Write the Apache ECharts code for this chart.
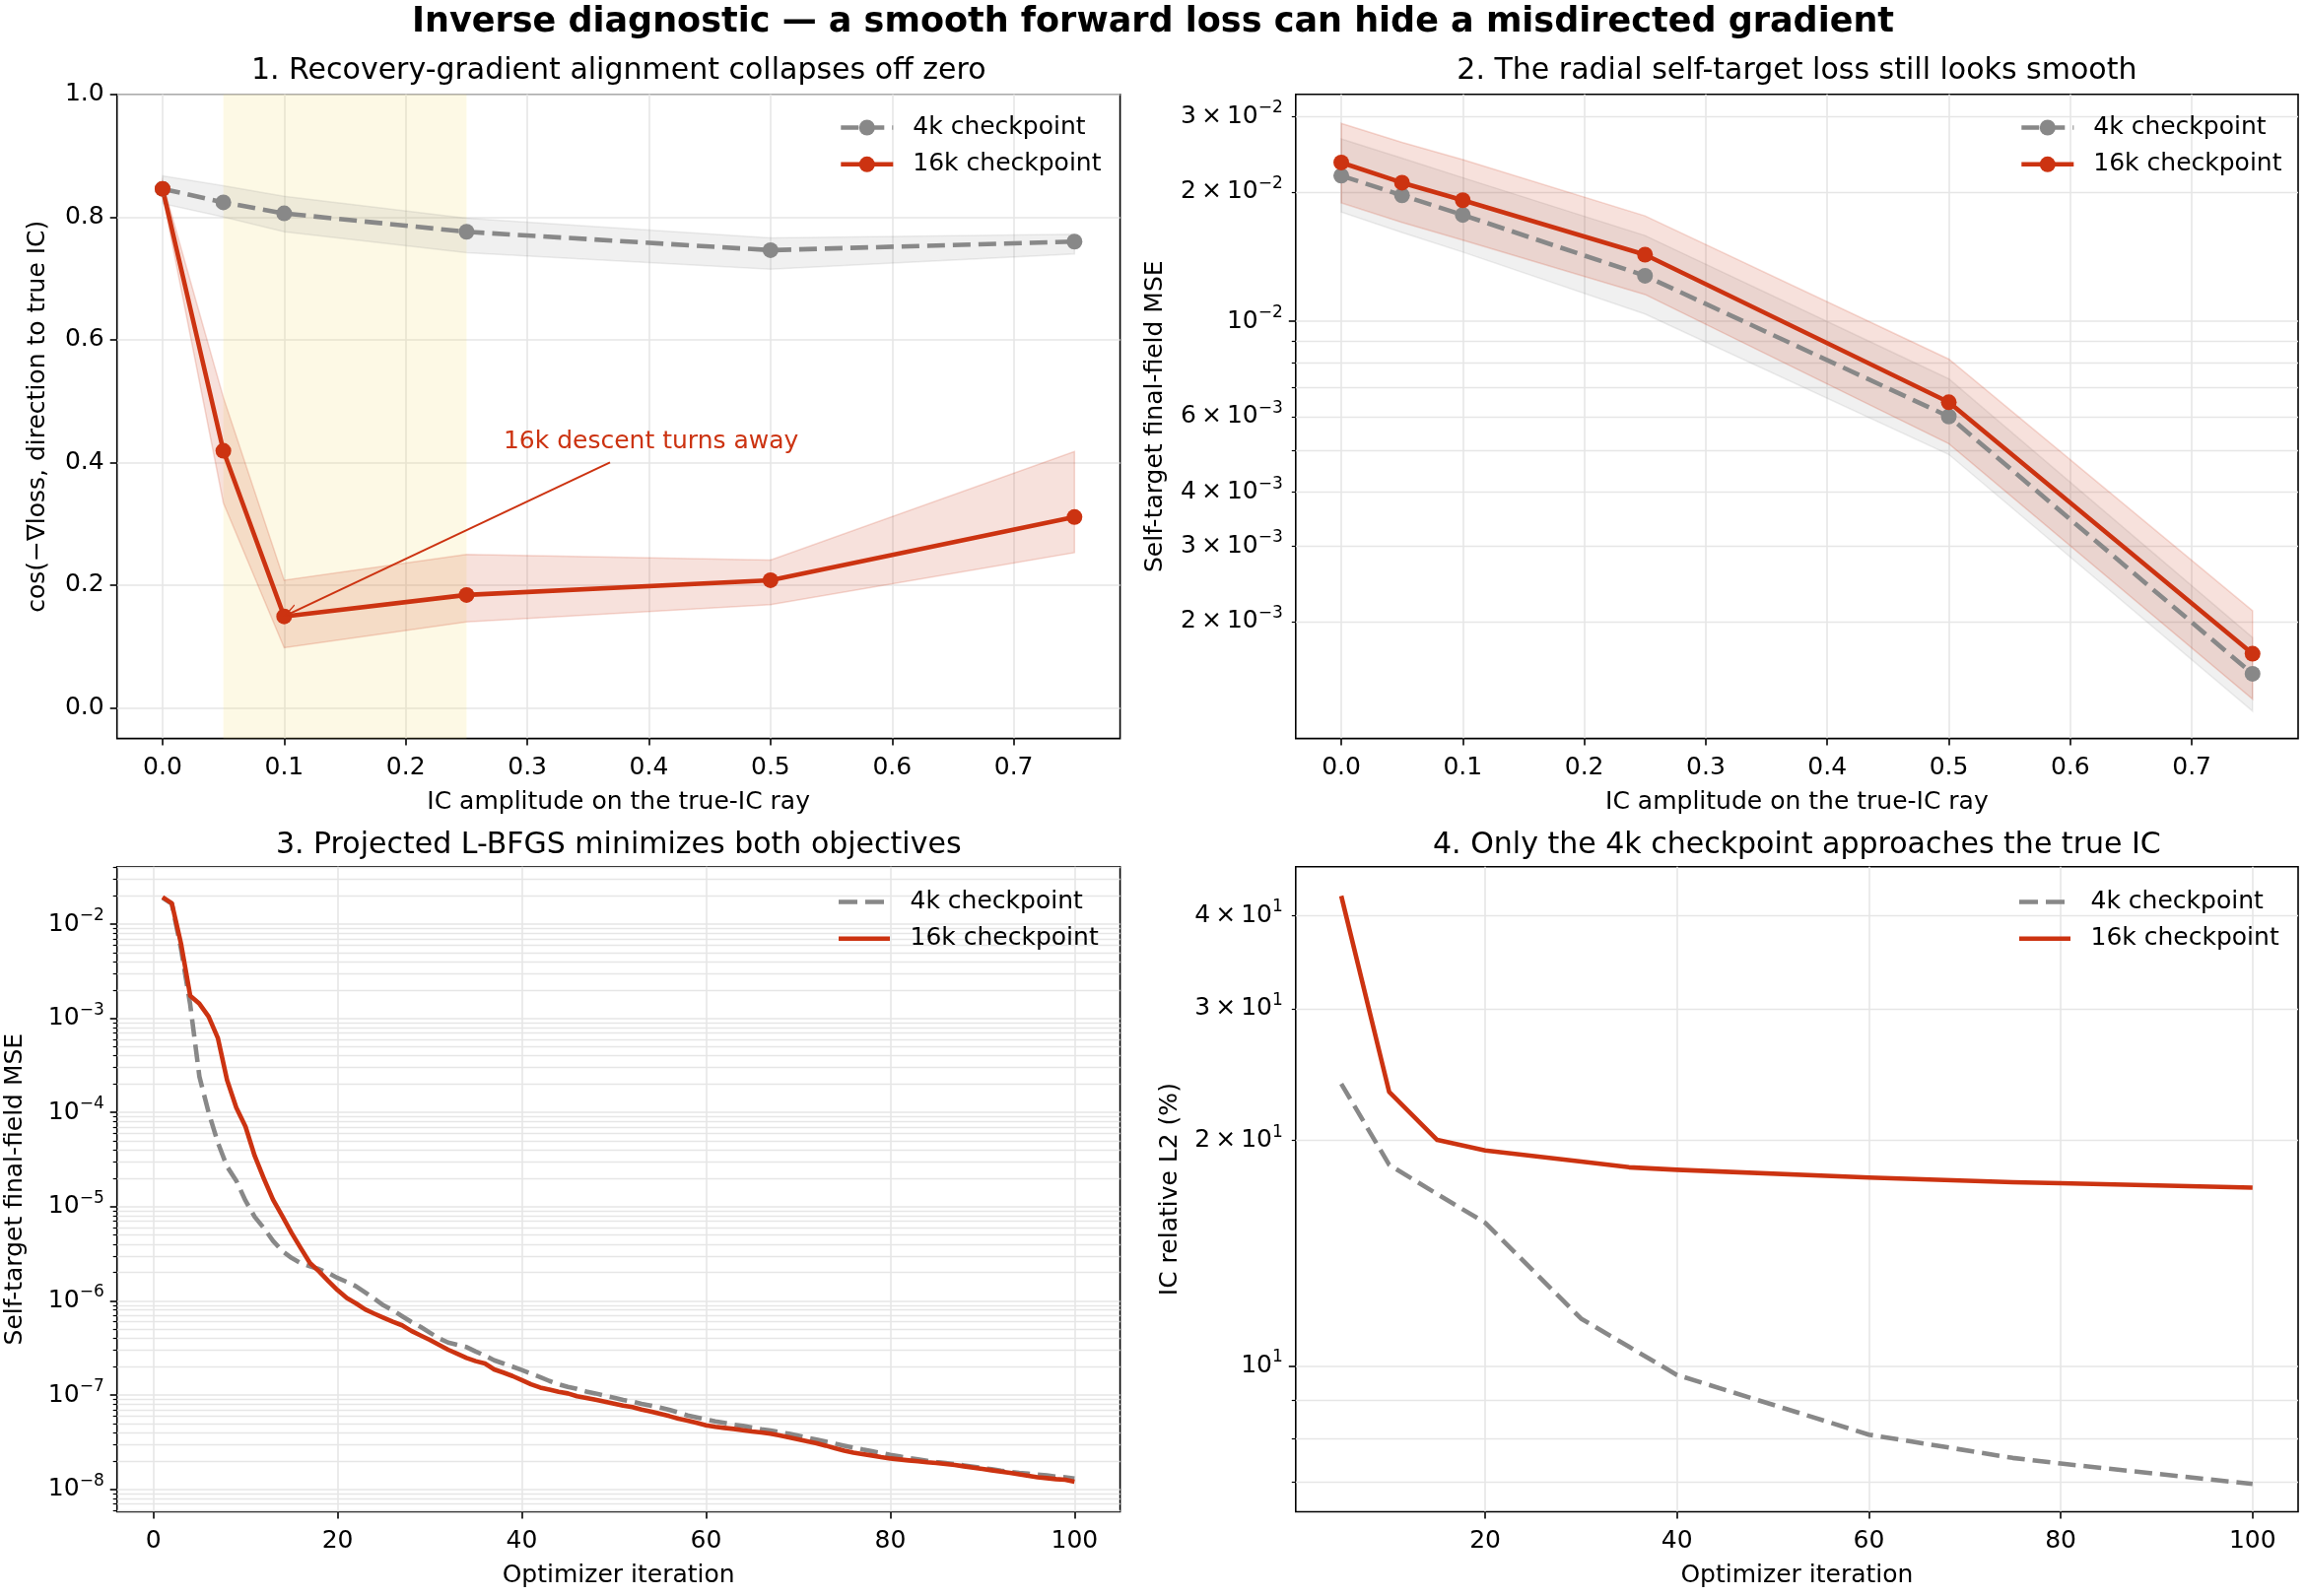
<!DOCTYPE html>
<html><head><meta charset="utf-8">
<script src="https://cdn.jsdelivr.net/npm/echarts@6/dist/echarts.min.js"></script>
<style>html,body{margin:0;padding:0;background:#fff}#c{width:2340px;height:1620px}</style>
</head><body><div id="c"></div><script>
// ---------- data ----------
const ampX = [0, 0.05, 0.1, 0.25, 0.5, 0.75];
const align4k   = [0.846, 0.824, 0.806, 0.776, 0.746, 0.760];
const align4kLo = [0.822, 0.800, 0.776, 0.742, 0.715, 0.740];
const align4kHi = [0.867, 0.851, 0.834, 0.798, 0.766, 0.772];
const align16k   = [0.846, 0.419, 0.149, 0.184, 0.208, 0.311];
const align16kLo = [0.836, 0.334, 0.098, 0.140, 0.168, 0.253];
const align16kHi = [0.856, 0.506, 0.208, 0.250, 0.241, 0.418];

const mse4k   = [0.02183, 0.01965, 0.01769, 0.01277, 0.006006, 0.001512];
const mse4kLo = [0.01797, 0.0161, 0.0145, 0.01040, 0.00490, 0.001238];
const mse4kHi = [0.02658, 0.0240, 0.0216, 0.01584, 0.00735, 0.001837];
const mse16k   = [0.02343, 0.02103, 0.01914, 0.01430, 0.006482, 0.001684];
const mse16kLo = [0.01888, 0.0170, 0.01545, 0.01155, 0.00519, 0.00132];
const mse16kHi = [0.0289, 0.0261, 0.0238, 0.0176, 0.00817, 0.00212];

const iters = [1,2,3,4,5,6,7,8,9,10,11,12,13,14,15,16,17,18,19,20,21,22,23,24,25,26,27,28,29,30,
  31,32,33,34,35,36,37,38,39,40,41,42,43,44,45,46,47,48,49,50,51,52,53,54,55,56,57,58,59,60,
  61,62,63,64,65,66,67,68,69,70,71,72,73,74,75,76,77,78,79,80,81,82,83,84,85,86,87,88,89,90,
  91,92,93,94,95,96,97,98,99,100];
const lbfgs4k = [0.0190,0.0165,0.0055,1.4e-3,2.4e-4,1.0e-4,4.8e-5,2.67e-5,1.89e-5,1.16e-5,
  7.8e-6,5.93e-6,4.33e-6,3.38e-6,2.86e-6,2.52e-6,2.33e-6,2.17e-6,1.97e-6,1.75e-6,
  1.59e-6,1.43e-6,1.23e-6,1.05e-6,8.95e-7,7.94e-7,6.88e-7,5.99e-7,5.31e-7,4.6e-7,
  4.01e-7,3.61e-7,3.41e-7,3.23e-7,2.9e-7,2.62e-7,2.34e-7,2.16e-7,2.0e-7,1.84e-7,
  1.69e-7,1.55e-7,1.41e-7,1.30e-7,1.22e-7,1.16e-7,1.09e-7,1.04e-7,9.84e-8,9.38e-8,
  8.87e-8,8.51e-8,8.05e-8,7.73e-8,7.36e-8,6.97e-8,6.53e-8,6.07e-8,5.79e-8,5.52e-8,
  5.26e-8,5.06e-8,4.85e-8,4.7e-8,4.51e-8,4.33e-8,4.2e-8,4.03e-8,3.88e-8,3.70e-8,
  3.52e-8,3.36e-8,3.2e-8,3.05e-8,2.9e-8,2.77e-8,2.64e-8,2.53e-8,2.43e-8,2.32e-8,
  2.23e-8,2.14e-8,2.07e-8,2.0e-8,1.94e-8,1.9e-8,1.85e-8,1.79e-8,1.73e-8,1.68e-8,
  1.63e-8,1.57e-8,1.53e-8,1.49e-8,1.46e-8,1.43e-8,1.40e-8,1.36e-8,1.34e-8,1.30e-8];
const lbfgs16k = [0.01934,0.01669,0.00624,0.00174,1.43e-3,1.045e-3,6.19e-4,2.21e-4,1.13e-4,7.1e-5,
  3.47e-5,1.99e-5,1.18e-5,7.96e-6,5.27e-6,3.63e-6,2.52e-6,2.05e-6,1.62e-6,1.30e-6,
  1.07e-6,9.4e-7,8.1e-7,7.3e-7,6.6e-7,6.0e-7,5.5e-7,4.8e-7,4.3e-7,3.85e-7,
  3.41e-7,3.03e-7,2.74e-7,2.48e-7,2.29e-7,2.16e-7,1.87e-7,1.73e-7,1.59e-7,1.44e-7,
  1.30e-7,1.20e-7,1.14e-7,1.08e-7,1.04e-7,9.7e-8,9.3e-8,8.9e-8,8.5e-8,8.1e-8,
  7.73e-8,7.43e-8,7.02e-8,6.69e-8,6.32e-8,5.98e-8,5.61e-8,5.35e-8,5.06e-8,4.78e-8,
  4.59e-8,4.48e-8,4.37e-8,4.23e-8,4.10e-8,4.0e-8,3.88e-8,3.72e-8,3.55e-8,3.38e-8,
  3.22e-8,3.07e-8,2.9e-8,2.72e-8,2.57e-8,2.45e-8,2.36e-8,2.28e-8,2.19e-8,2.12e-8,
  2.07e-8,2.02e-8,1.98e-8,1.93e-8,1.90e-8,1.85e-8,1.81e-8,1.75e-8,1.69e-8,1.64e-8,
  1.59e-8,1.54e-8,1.49e-8,1.44e-8,1.39e-8,1.34e-8,1.31e-8,1.28e-8,1.26e-8,1.20e-8];

const recIter = [5, 10, 15, 20, 30, 35, 40, 60, 75, 80, 100];
const icL2_4k  = [23.82, 18.56, 16.96, 15.53, 11.56, 10.60, 9.72, 8.09, 7.53, 7.40, 6.95];
const icL2_16k = [42.46, 23.22, 20.04, 19.40, 18.75, 18.42, 18.28, 17.85, 17.59, 17.54, 17.30];

const ampTicks = [0, 0.1, 0.2, 0.3, 0.4, 0.5, 0.6, 0.7];
const alignTicks = [0, 0.2, 0.4, 0.6, 0.8, 1.0];
const iterTicks3 = [0, 20, 40, 60, 80, 100];
const iterTicks4 = [20, 40, 60, 80, 100];
const mseLabels2 = [0.002, 0.003, 0.004, 0.006, 0.01, 0.02, 0.03];
const mseLabels3 = [1e-8, 1e-7, 1e-6, 1e-5, 1e-4, 1e-3, 1e-2];
const l2Labels4 = [10, 20, 30, 40];
const highlightSpan = [0.05, 0.25];

const titles = ['Inverse diagnostic — a smooth forward loss can hide a misdirected gradient',
  '1. Recovery-gradient alignment collapses off zero',
  '2. The radial self-target loss still looks smooth',
  '3. Projected L-BFGS minimizes both objectives',
  '4. Only the 4k checkpoint approaches the true IC'];

// ---------- style ----------
const RED = '#cc3311', GREY = '#888888';
const FONT = 'DejaVu Sans';
const GRIDC = '#e6e6e6';
const DASH = [18, 8];
const LW = 4.6;

function logTicks(lo, hi, mantissas) {
  const out = [];
  for (let e = Math.floor(Math.log10(lo)); e <= Math.ceil(Math.log10(hi)); e++) {
    mantissas.forEach(m => { const v = m * Math.pow(10, e); if (v >= lo && v <= hi) out.push(+v.toPrecision(6)); });
  }
  return out;
}
function sci(v) {
  const e = Math.floor(Math.log10(v) + 1e-9);
  const m = Math.round(v / Math.pow(10, e));
  const exp = e < 0 ? '\u2212' + (-e) : String(e);
  return (m === 1 ? '{b|10}' : '{b|' + m + '\u2009\u00d7\u200910}') + '{s|' + exp + '}';
}
const rich = { b: { fontSize: 25, color: '#000', fontFamily: FONT, lineHeight: 34 },
               s: { fontSize: 17, color: '#000', fontFamily: FONT, verticalAlign: 'top', lineHeight: 17 } };

const grids = [
  { left: 118.7, top: 95.8, width: 1017.9, height: 653.8 },
  { left: 1314.8, top: 95.8, width: 1017.2, height: 653.8 },
  { left: 118.7, top: 879.8, width: 1017.9, height: 654.7 },
  { left: 1314.8, top: 879.8, width: 1017.2, height: 654.7 }
].map(g => Object.assign(g, { show: true, borderColor: '#000', borderWidth: 1.6, backgroundColor: 'transparent' }));

function xAx(gi, min, max, ticks, fmt, name) {
  return { gridIndex: gi, type: 'value', min, max,
    axisLine: { show: false, onZero: false },
    axisTick: { show: true, customValues: ticks, length: 7, lineStyle: { color: '#000', width: 1.6 } },
    axisLabel: { customValues: ticks, formatter: fmt, margin: 17, fontSize: 25, color: '#000', fontFamily: FONT },
    splitLine: { show: true, lineStyle: { color: GRIDC, width: 1.6 } },
    name, nameLocation: 'middle', nameGap: 52, nameTextStyle: { fontSize: 25, color: '#000', fontFamily: FONT } };
}
function yMajor(gi, type, min, max, ticks, labels, fmt, name, gap, useRich) {
  const lab = { customValues: labels, formatter: fmt, margin: 13, fontSize: 25, color: '#000', fontFamily: FONT };
  if (useRich) lab.rich = rich;
  return { gridIndex: gi, type, min, max, position: 'left',
    axisLine: { show: false, onZero: false },
    axisTick: { show: true, customValues: ticks, length: 7, lineStyle: { color: '#000', width: 1.6 } },
    axisLabel: lab,
    splitLine: { show: true, lineStyle: { color: GRIDC, width: 1.6 } },
    name, nameLocation: 'middle', nameGap: gap, nameTextStyle: { fontSize: 25, color: '#000', fontFamily: FONT } };
}
function yMinor(gi, min, max, ticks) {
  return { gridIndex: gi, type: 'log', min, max, position: 'left',
    axisLine: { show: false, onZero: false }, axisLabel: { show: false },
    axisTick: { show: true, customValues: ticks, length: 4, lineStyle: { color: '#000', width: 1.2 } },
    splitLine: { show: true, lineStyle: { color: GRIDC, width: 1.4 } } };
}

const y2 = [1.069e-3, 3.376e-2], y3 = [5.76e-9, 4.07e-2], y4 = [6.38, 46.45];

const xAxes = [
  xAx(0, -0.0375, 0.7875, ampTicks, v => v.toFixed(1), 'IC amplitude on the true-IC ray'),
  xAx(1, -0.0375, 0.7875, ampTicks, v => v.toFixed(1), 'IC amplitude on the true-IC ray'),
  xAx(2, -3.95, 104.95, iterTicks3, v => String(v), 'Optimizer iteration'),
  xAx(3, 0.25, 104.75, iterTicks4, v => String(v), 'Optimizer iteration')
];
const yAxes = [
  yMajor(0, 'value', -0.05, 1.0, alignTicks, alignTicks, v => v.toFixed(1), 'cos(\u2212\u2207loss, direction to true IC)', 68, false),
  yMajor(1, 'log', y2[0], y2[1], logTicks(y2[0], y2[1], [1]), mseLabels2, sci, 'Self-target final-field MSE', 130, true),
  yMinor(1, y2[0], y2[1], logTicks(y2[0], y2[1], [2,3,4,5,6,7,8,9])),
  yMajor(2, 'log', y3[0], y3[1], logTicks(y3[0], y3[1], [1]), mseLabels3, sci, 'Self-target final-field MSE', 91, true),
  yMinor(2, y3[0], y3[1], logTicks(y3[0], y3[1], [2,3,4,5,6,7,8,9])),
  yMajor(3, 'log', y4[0], y4[1], logTicks(y4[0], y4[1], [1]), l2Labels4, sci, 'IC relative L2 (%)', 115, true),
  yMinor(3, y4[0], y4[1], logTicks(y4[0], y4[1], [2,3,4,5,6,7,8,9]))
];

function band(xs, lo, hi, color, xi, yi) {
  return { type: 'custom', xAxisIndex: xi, yAxisIndex: yi, z: 1, silent: true,
    data: xs.map((x, i) => [x, lo[i], hi[i]]), encode: { x: 0, y: [1, 2] },
    renderItem: function (params, api) {
      if (params.dataIndex !== 0) return null;
      const top = xs.map((x, i) => api.coord([x, hi[i]]));
      const bot = xs.map((x, i) => api.coord([x, lo[i]])).reverse();
      return { type: 'polygon', shape: { points: top.concat(bot) },
        style: { fill: color.fill, stroke: color.edge, lineWidth: 1.5 } };
    } };
}
const redBand = { fill: 'rgba(204,51,17,0.15)', edge: 'rgba(204,51,17,0.18)' };
const greyBand = { fill: 'rgba(136,136,136,0.13)', edge: 'rgba(136,136,136,0.15)' };

function line(name, xs, ys, color, dashed, xi, yi, marker) {
  return { type: 'line', name, xAxisIndex: xi, yAxisIndex: yi, z: 3,
    data: xs.map((x, i) => [x, ys[i]]),
    symbol: marker ? 'circle' : 'none', symbolSize: 16, showSymbol: !!marker,
    itemStyle: { color, borderWidth: 0 },
    lineStyle: { color, width: LW, type: dashed ? DASH : 'solid', join: 'round' },
    emphasis: { disabled: true }, silent: true, animation: false };
}

const arrowHead = 'path://M5,0 L10,13 L9,13 L5,3 L1,13 L0,13 Z';
const s16a = line('a16', ampX, align16k, RED, false, 0, 0, true);
s16a.markLine = { silent: true, symbol: ['none', arrowHead], symbolSize: [13, 15],
  lineStyle: { color: RED, width: 2, type: 'solid' }, label: { show: false },
  data: [[{ coord: [0.368, 0.40] }, { coord: [0.105, 0.154] }]] };
s16a.markPoint = { silent: true, symbol: 'circle', symbolSize: 1, itemStyle: { color: 'rgba(0,0,0,0)' },
  label: { show: true, position: 'right', distance: 0, formatter: '16k descent turns away', color: RED, fontSize: 25, fontFamily: FONT },
  data: [{ coord: [0.28, 0.433] }] };
const s4a = line('a4', ampX, align4k, GREY, true, 0, 0, true);
s4a.markArea = { silent: true, z: 0.5, itemStyle: { color: 'rgba(245,224,110,0.18)' },
  data: [[{ xAxis: highlightSpan[0] }, { xAxis: highlightSpan[1] }]] };

const series = [
  band(ampX, align4kLo, align4kHi, greyBand, 0, 0),
  band(ampX, align16kLo, align16kHi, redBand, 0, 0),
  s4a, s16a,
  band(ampX, mse4kLo, mse4kHi, greyBand, 1, 1),
  band(ampX, mse16kLo, mse16kHi, redBand, 1, 1),
  line('b4', ampX, mse4k, GREY, true, 1, 1, true),
  line('b16', ampX, mse16k, RED, false, 1, 1, true),
  line('c4', iters, lbfgs4k, GREY, true, 2, 3, false),
  line('c16', iters, lbfgs16k, RED, false, 2, 3, false),
  line('d4', recIter, icL2_4k, GREY, true, 3, 5, false),
  line('d16', recIter, icL2_16k, RED, false, 3, 5, false)
];

// legend handles without markers (plain line / dashed line)
const corners = 'M0,0L0.01,0L0,0.01Z M52,20L51.99,20L52,19.99Z ';
const solidIcon = 'path://' + corners + 'M0,7.7H52V12.3H0Z';
const dashIcon = 'path://' + corners + 'M0,7.7H19V12.3H0Z M27,7.7H46V12.3H27Z';

function leg(names, left, top, plain) {
  const data = plain ? [{ name: names[0], icon: dashIcon }, { name: names[1], icon: solidIcon }] : names;
  return { data, left, top, orient: 'vertical', align: 'left', padding: 0,
    itemWidth: 53, itemHeight: 20, itemGap: 12.3, selectedMode: false,
    formatter: n => n.slice(1) === '4' ? '4k checkpoint' : '16k checkpoint',
    lineStyle: { width: LW },
    textStyle: { fontSize: 25, color: '#000', fontFamily: FONT, padding: [0, 0, 0, 15], lineHeight: 25 } };
}

const titleCfg = (text, left, top, size, weight) => ({ text, left, top, textAlign: 'center', padding: 0,
  textStyle: { fontSize: size, fontWeight: weight, color: '#000', fontFamily: FONT } });

const chart = echarts.init(document.getElementById('c'), null, { renderer: 'canvas' });
chart.setOption({
  animation: false,
  backgroundColor: '#fff',
  textStyle: { fontFamily: FONT },
  title: [
    titleCfg(titles[0], 1170, 5, 35, 'bold'),
    titleCfg(titles[1], 627.7, 57, 30, 'normal'),
    titleCfg(titles[2], 1823.4, 57, 30, 'normal'),
    titleCfg(titles[3], 627.7, 843, 30, 'normal'),
    titleCfg(titles[4], 1823.4, 843, 30, 'normal')
  ],
  legend: [
    leg(['a4', 'a16'], 851, 117, false),
    leg(['b4', 'b16'], 2049, 117, false),
    leg(['c4', 'c16'], 851, 903, true),
    leg(['d4', 'd16'], 2049, 903, true)
  ],
  grid: grids,
  xAxis: xAxes,
  yAxis: yAxes,
  series
});
</script></body></html>
